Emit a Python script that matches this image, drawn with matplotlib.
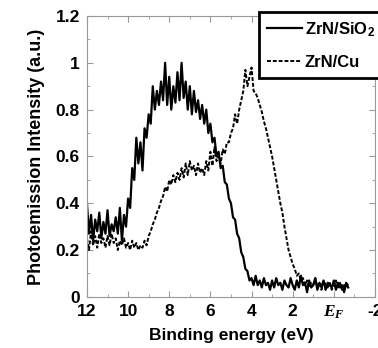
import numpy as np
import matplotlib
matplotlib.use("Agg")
import matplotlib.pyplot as plt
from matplotlib.ticker import MultipleLocator

plt.rcParams['font.family'] = ['Liberation Sans', 'DejaVu Sans']
plt.rcParams['font.weight'] = 'bold'
plt.rcParams['mathtext.fontset'] = 'custom'
plt.rcParams['mathtext.rm'] = 'Liberation Sans:bold'
plt.rcParams['mathtext.it'] = 'Liberation Serif:italic'
plt.rcParams['mathtext.bf'] = 'Liberation Sans:bold'

# binding energy grid (eV), 12 -> -0.7 in 0.1 steps
energy = np.round(np.arange(12.0, -0.75, -0.1), 2)

# ZrN/SiO2 (solid)
zrn_sio2 = [
    0.40, 0.27, 0.35, 0.24, 0.33, 0.28, 0.36, 0.25, 0.32, 0.27,
    0.37, 0.26, 0.31, 0.28, 0.34, 0.27, 0.38, 0.24, 0.35, 0.30,
    0.42, 0.38, 0.55, 0.50, 0.68, 0.57, 0.66, 0.54, 0.72, 0.68,
    0.78, 0.74, 0.90, 0.80, 0.88, 0.82, 0.92, 0.84, 1.00, 0.82,
    0.94, 0.80, 0.90, 0.83, 0.96, 0.84, 1.00, 0.85, 0.92, 0.80,
    0.90, 0.78, 0.88, 0.79, 0.84, 0.76, 0.82, 0.74, 0.80, 0.70,
    0.74, 0.66, 0.68, 0.60, 0.62, 0.55, 0.56, 0.49, 0.48, 0.42,
    0.40, 0.34, 0.33, 0.27, 0.25, 0.19, 0.17, 0.12, 0.11, 0.07,
    0.08, 0.05, 0.09, 0.05, 0.07, 0.04, 0.08, 0.05, 0.06, 0.03,
    0.07, 0.04, 0.08, 0.05, 0.06, 0.03, 0.07, 0.05, 0.04, 0.08,
    0.05, 0.03, 0.07, 0.04, 0.09, 0.05, 0.06, 0.02, 0.07, 0.04,
    0.05, 0.08, 0.03, 0.06, 0.04, 0.07, 0.03, 0.06, 0.05, 0.04,
    0.07, 0.03, 0.06, 0.04, 0.05, 0.02, 0.06, 0.04,
]

# ZrN/Cu (dashed)
zrn_cu = [
    0.25, 0.20, 0.28, 0.22, 0.26, 0.21, 0.27, 0.23, 0.25, 0.21,
    0.26, 0.22, 0.27, 0.23, 0.25, 0.20, 0.24, 0.22, 0.25, 0.21,
    0.23, 0.20, 0.24, 0.21, 0.23, 0.20, 0.22, 0.21, 0.24, 0.22,
    0.26, 0.28, 0.31, 0.33, 0.36, 0.38, 0.41, 0.43, 0.47, 0.45,
    0.50, 0.48, 0.52, 0.49, 0.53, 0.50, 0.55, 0.51, 0.57, 0.52,
    0.58, 0.54, 0.56, 0.52, 0.57, 0.53, 0.55, 0.52, 0.58, 0.54,
    0.62, 0.56, 0.64, 0.58, 0.60, 0.57, 0.63, 0.61, 0.66, 0.66,
    0.70, 0.72, 0.78, 0.74, 0.80, 0.84, 0.88, 0.97, 0.90, 0.94,
    0.98, 0.88, 0.87, 0.85, 0.82, 0.79, 0.75, 0.72, 0.68, 0.64,
    0.60, 0.55, 0.50, 0.45, 0.40, 0.36, 0.30, 0.25, 0.20, 0.17,
    0.14, 0.12, 0.09, 0.10, 0.07, 0.08, 0.05, 0.07, 0.04, 0.06,
    0.05, 0.08, 0.04, 0.06, 0.03, 0.07, 0.05, 0.04, 0.06, 0.03,
    0.05, 0.07, 0.04, 0.06, 0.03, 0.05, 0.04, 0.06,
]

x_ticks = [12, 10, 8, 6, 4, 2, 0, -2]
x_labels = ['12', '10', '8', '6', '4', '2', '$E_F$', '-2']
y_ticks = [0, 0.2, 0.4, 0.6, 0.8, 1.0, 1.2]
y_labels = ['0', '0.2', '0.4', '0.6', '0.8', '1', '1.2']

fig = plt.figure(figsize=(3.78, 3.48), dpi=100)
ax = fig.add_axes([0.230, 0.147, 0.762, 0.807])

ax.plot(energy, zrn_sio2, color='black', lw=1.6, label='ZrN/SiO$_2$')
ax.plot(energy, zrn_cu, color='black', lw=1.4, linestyle=(0, (2, 1)), label='ZrN/Cu')

ax.set_xlim(12, -2)
ax.set_ylim(0, 1.2)
ax.set_xticks(x_ticks)
ax.set_xticklabels(x_labels, fontsize=12.5, fontweight='bold')
ax.set_yticks(y_ticks)
ax.set_yticklabels(y_labels, fontsize=12.5, fontweight='bold')
ax.xaxis.set_minor_locator(MultipleLocator(1))
ax.yaxis.set_minor_locator(MultipleLocator(0.1))
ax.tick_params(which='both', direction='in', top=True, right=True, color='#999999')
ax.tick_params(which='major', length=4, pad=5)
ax.tick_params(which='minor', length=2)
for s in ax.spines.values():
    s.set_color('#999999')
    s.set_linewidth(0.8)

ax.set_xlabel('Binding energy (eV)', fontsize=12.5, fontweight='bold', labelpad=5)
ax.set_ylabel('Photoemission Intensity (a.u.)', fontsize=13, fontweight='bold', labelpad=8)

leg = ax.legend(loc='upper left', bbox_to_anchor=(259 / 378, 1 - 12 / 348),
                bbox_transform=fig.transFigure, borderaxespad=0, fancybox=False,
                frameon=True, edgecolor='black', framealpha=1, handlelength=2.1,
                handletextpad=0.15, borderpad=0.5, labelspacing=0.95,
                prop={'weight': 'bold', 'size': 12})
leg.get_frame().set_linewidth(2)
leg.set_clip_on(False)

fig.savefig('out.png', dpi=100)
